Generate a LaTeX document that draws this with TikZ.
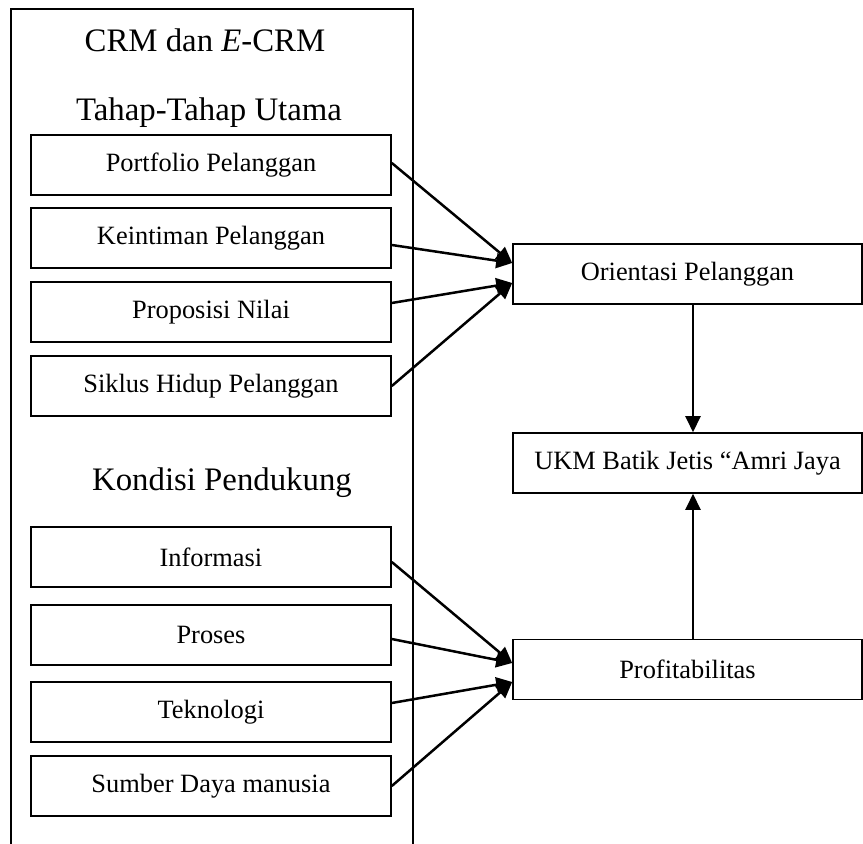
\documentclass[tikz,border=0pt]{standalone}
\usepackage{fontspec}
\setmainfont{Liberation Serif}
\usetikzlibrary{arrows.meta,positioning,calc}

\newcommand{\kotakfont}{\fontsize{13.2}{15}\selectfont}
\newcommand{\judulfont}{\fontsize{16.4}{19}\selectfont}

\tikzset{
  kotak/.style={draw,line width=0.8pt,minimum width=180pt,minimum height=30pt,inner sep=0pt,font=\kotakfont},
  kanan/.style={draw,line width=0.8pt,minimum width=174.5pt,minimum height=30pt,inner sep=0pt,font=\kotakfont},
  judul/.style={inner sep=0pt,font=\judulfont},
  panah/.style={line width=1.25pt,-{Triangle[length=8pt,width=7.5pt]}}
}

\begin{document}
\begin{tikzpicture}[x=0.5pt,y=-0.5pt]

    \useasboundingbox (0,0) rectangle (863,844);
    \draw[line width=1pt] (11,844) -- (11,9) -- (413,9) -- (413,844); % bingkai kiri

    % judul
    \node[judul] (crm) at (205,40) {CRM dan \textit{E}-CRM};
    \node[judul] (tahap) at (209,113) {Tahap-Tahap Utama};
    \node[judul] (kondisi) at (222,483) {Kondisi Pendukung};

    % tahap-tahap utama
    \node[kotak] (portfolio) at (211,165) {Portfolio Pelanggan};
    \node[kotak] (keintiman) at (211,238) {Keintiman Pelanggan};
    \node[kotak] (proposisi) at (211,312) {Proposisi Nilai};
    \node[kotak] (siklus) at (211,386) {Siklus Hidup Pelanggan};

    % kondisi pendukung
    \node[kotak] (informasi) at (211,557) {Informasi};
    \node[kotak] (proses) at (211,635) {Proses};
    \node[kotak] (teknologi) at (211,712) {Teknologi};
    \node[kotak] (sdm) at (211,786) {Sumber Daya manusia};

    % sisi kanan
    \node[kanan] (orientasi) at (687.5,274) {Orientasi Pelanggan};
    \node[kanan] (ukm) at (687.5,463) {UKM Batik Jetis ``Amri Jaya};
    \node[kanan] (profit) at (687.5,669.5) {Profitabilitas};

    \draw[panah] ([yshift=1pt]portfolio.east) -- ([yshift=5.5pt]orientasi.west);
    \draw[panah] ([yshift=-3.5pt]keintiman.east) -- ([yshift=5.5pt]orientasi.west);
    \draw[panah] ([yshift=4.5pt]proposisi.east) -- ([yshift=-4.5pt]orientasi.west);
    \draw[panah] (siklus.east) -- ([yshift=-4.5pt]orientasi.west);

    \draw[panah] ([yshift=-2.5pt]informasi.east) -- ([yshift=3.25pt]profit.west);
    \draw[panah] ([yshift=-2pt]proses.east) -- ([yshift=3.25pt]profit.west);
    \draw[panah] ([yshift=4.5pt]teknologi.east) -- ([yshift=-6.25pt]profit.west);
    \draw[panah] (sdm.east) -- ([yshift=-6.25pt]profit.west);

    \draw[panah] ([xshift=2.75pt]orientasi.south) -- ([xshift=2.75pt]ukm.north);
    \draw[panah] ([xshift=2.75pt]profit.north) -- ([xshift=2.75pt]ukm.south);

\end{tikzpicture}
\end{document}
